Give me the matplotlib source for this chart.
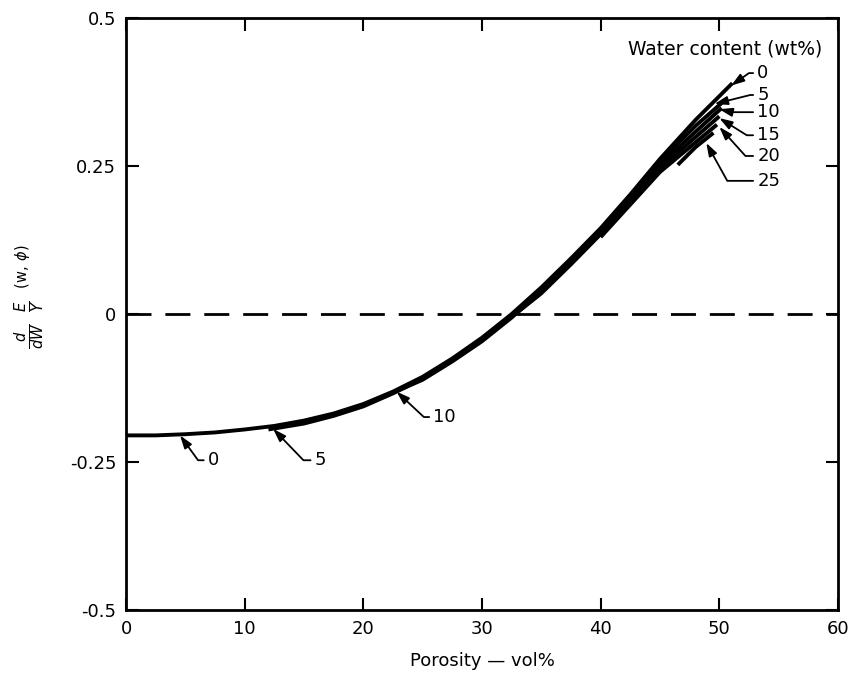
import matplotlib
matplotlib.use("Agg")
import matplotlib.pyplot as plt

# porosity (vol%) / d/dW(E/Y) for each water content (wt%)
x_w0 = [0, 2.5, 5, 7.5, 10, 12.5, 15, 17.5, 20, 22.5, 25, 27.5, 30, 32.5, 35,
        37.5, 40, 42.5, 45, 48, 51.1]
y_w0 = [-0.205, -0.205, -0.203, -0.200, -0.195, -0.189, -0.180, -0.168, -0.152,
        -0.131, -0.106, -0.075, -0.040, 0.000, 0.045, 0.094, 0.145, 0.202, 0.262,
        0.328, 0.390]
x_w5 = [12, 15, 17.5, 20, 22.5, 25, 27.5, 30, 32.5, 35, 37.5, 40, 42.5, 45, 48, 50.4]
y_w5 = [-0.195, -0.185, -0.172, -0.156, -0.134, -0.109, -0.078, -0.043, -0.003,
        0.042, 0.091, 0.142, 0.199, 0.258, 0.318, 0.360]
x_w10 = [22.5, 25, 27.5, 30, 32.5, 35, 37.5, 40, 42.5, 45, 48, 50.2]
y_w10 = [-0.133, -0.111, -0.080, -0.046, -0.006, 0.039, 0.088, 0.139, 0.195,
         0.252, 0.308, 0.348]
x_w15 = [33, 35, 37.5, 40, 42.5, 45, 48, 50]
y_w15 = [0.003, 0.035, 0.084, 0.135, 0.190, 0.246, 0.299, 0.334]
x_w20 = [40, 42.5, 45, 48, 49.8]
y_w20 = [0.130, 0.185, 0.240, 0.290, 0.320]
x_w25 = [46.5, 48, 49.5]
y_w25 = [0.252, 0.282, 0.306]

xticks = [0, 10, 20, 30, 40, 50, 60]
yticks = [-0.5, -0.25, 0, 0.25, 0.5]
ytick_labels = ["-0.5", "-0.25", "0", "0.25", "0.5"]

# label text, text position, arrow tip, angle of last leader segment
top_labels = [("0", (53.2, 0.407), (51.0, 0.386), 35),
              ("5", (53.2, 0.370), (49.6, 0.355), 14),
              ("10", (53.2, 0.341), (50.0, 0.346), -13),
              ("15", (53.2, 0.302), (50.0, 0.331), -32),
              ("20", (53.2, 0.267), (50.0, 0.316), -48),
              ("25", (53.2, 0.225), (48.9, 0.289), -61)]
bottom_labels = [("0", (6.9, -0.247), (4.55, -0.205), -54),
                 ("5", (15.9, -0.247), (12.4, -0.194), -46),
                 ("10", (25.9, -0.174), (22.8, -0.131), -43)]

plt.rcParams['font.family'] = ['DejaVu Sans']
fig = plt.figure(figsize=(8.48, 6.76), dpi=100)
ax = fig.add_axes([0.1486, 0.0976, 0.8396, 0.8757])

for xs, ys in [(x_w0, y_w0), (x_w5, y_w5), (x_w10, y_w10),
               (x_w15, y_w15), (x_w20, y_w20), (x_w25, y_w25)]:
    ax.plot(xs, ys, color='black', lw=2.8, solid_capstyle='butt')

ax.axhline(0, color='black', lw=2, dashes=(9, 5))

for lab, txt, tip, ang in top_labels + bottom_labels:
    ax.annotate(lab, xy=tip, xytext=txt, fontsize=13, ha='left', va='center',
                arrowprops=dict(arrowstyle='-|>,head_length=0.6,head_width=0.2',
                                color='black', lw=1.3, shrinkA=1, shrinkB=0,
                                relpos=(0, 0.5),
                                connectionstyle="angle,angleA=0,angleB=%d,rad=0" % ang))

ax.text(42.3, 0.448, "Water content (wt%)", fontsize=13.5, ha='left', va='center')

ax.set_xlim(0, 60)
ax.set_ylim(-0.5, 0.5)
ax.set_xticks(xticks)
ax.set_yticks(yticks)
ax.set_yticklabels(ytick_labels)
ax.tick_params(direction='in', length=9, width=1.5, labelsize=13,
               top=True, right=True, pad=7)
for s in ax.spines.values():
    s.set_linewidth(2)

ax.set_xlabel("Porosity — vol%", fontsize=13, labelpad=10)
ax.set_ylabel(r"$\frac{d}{dW}\;\;\frac{E}{Y}\;\;^{(\mathrm{w},\,\phi)}$", fontsize=15)
ax.yaxis.set_label_coords(-0.111, 0.53)

plt.savefig("out.png", dpi=100)
